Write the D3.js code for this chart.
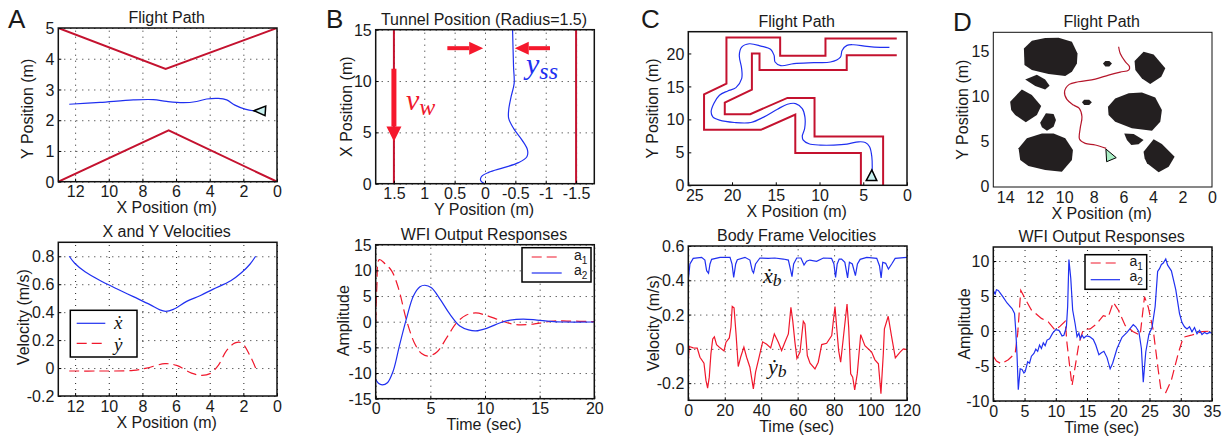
<!DOCTYPE html>
<html>
<head>
<meta charset="utf-8">
<title>Flight paths</title>
<script src="https://cdn.jsdelivr.net/npm/d3@7"></script>
<style>
  html, body { margin: 0; padding: 0; background: #fff; }
  svg { display: block; }
  text { font-family: "Liberation Sans", Arial, sans-serif; fill: #1a1a1a; }
  .math { font-family: "Liberation Serif", serif; font-style: italic; }
</style>
</head>
<body>
<div id="chart"></div>
<script>
// ---- data ----

// A, flight path
const aWallTopX = [13, 6.62, 0];
const aWallTopY = [5, 3.67, 5];
const aWallBottomX = [13, 6.44, 0];
const aWallBottomY = [0, 1.67, 0];
const aPathX = [12.35, 10.52, 8.54, 7.35, 6.56, 5.57, 4.78, 4.18, 3.49, 2.99, 2.5, 1.9, 1.31];
const aPathY = [2.52, 2.58, 2.66, 2.67, 2.61, 2.57, 2.61, 2.69, 2.71, 2.66, 2.49, 2.36, 2.3];
const aMarkerX = [1.37, 0.67, 0.71];
const aMarkerY = [2.31, 2.46, 2.15];

// A, velocities
const aVelX = [12.35, 12.01, 11.41, 10.52, 9.53, 8.54, 7.55, 6.96, 6.62, 6.16, 5.37, 4.58, 3.79, 2.75, 2.1, 1.61, 1.27];
const aVelXdot = [0.8, 0.748, 0.689, 0.627, 0.568, 0.511, 0.454, 0.416, 0.406, 0.42, 0.477, 0.518, 0.565, 0.625, 0.684, 0.743, 0.8];
const aVelY = [12.35, 10.52, 8.54, 7.75, 6.66, 5.97, 5.08, 4.48, 3.98, 3.49, 2.99, 2.49, 2.1, 1.61, 1.27];
const aVelYdot = [-0.021, -0.021, -0.017, 0, 0.031, 0.019, -0.036, -0.052, -0.04, 0.019, 0.126, 0.18, 0.18, 0.09, 0];

// B, tunnel position
const bWallLeft = [1.5, 1.5];
const bWallRight = [-1.5, -1.5];
const bWallSpan = [0, 15];
const bPathY = [-0.454, -0.47, -0.48, -0.43, -0.39, -0.39, -0.47, -0.61, -0.7, -0.69, -0.55, -0.31, -0.06, 0.06, 0.07, 0];
const bPathX = [15, 11.4, 9.77, 8.47, 7.18, 6.36, 5.39, 4.25, 3.28, 2.63, 2.05, 1.56, 1.1, 0.68, 0.29, 0];

// B, WFI responses
const bA1T = [0, 0.1, 0.33, 0.85, 1.46, 2.07, 2.84, 3.6, 4.2, 4.8, 5.6, 6.5, 7.4, 8.3, 9.15, 10.15, 11.4, 12.6, 13.8, 15, 16.25, 17.5, 20];
const bA1 = [0, 6.6, 12.1, 11.3, 9.9, 6.6, 0.13, -4.4, -6.2, -6.7, -5.9, -3.1, -0.2, 1.3, 1.7, 1.2, 0.26, -0.5, -0.58, -0.26, 0.13, 0.13, 0];
const bA2T = [0, 0.25, 0.6, 1.07, 1.6, 2.2, 2.84, 3.45, 4.05, 4.5, 5.1, 5.9, 6.8, 7.7, 8.5, 9.15, 10.15, 11.4, 12.3, 13.5, 14.75, 16, 17.2, 20];
const bA2 = [-11.2, -12, -12.3, -11.9, -9.6, -4.4, 0.8, 5, 6.8, 7.1, 6.6, 4.35, 1.43, -0.84, -1.6, -1.8, -1.3, -0.2, 0.32, 0.52, 0.32, 0.06, -0.06, -0.06];

// C, flight path
const cWallOneX = [5.27, 5.27, 12.77, 12.77, 16.7, 23.2, 23.2, 20.64, 20.64, 14.5, 14.5, 9.32, 9.32, 1.17];
const cWallOneY = [0, 4.89, 4.89, 10.74, 8.42, 8.42, 13.81, 15.42, 22.43, 22.43, 19.66, 19.66, 22.28, 22.28];
const cWallTwoX = [2.73, 2.73, 10.57, 10.57, 13.67, 17.92, 20.83, 20.83, 17.73, 17.73, 16.86, 16.86, 6.89, 6.89, 1.17];
const cWallTwoY = [0, 7.41, 7.41, 13.26, 13.26, 10.79, 10.79, 12.55, 14.52, 20.01, 20.01, 17.49, 17.49, 19.71, 19.71];
const cPathX = [3.98, 4.02, 4.28, 4.77, 5.53, 6.86, 8.37, 9.89, 11.21, 11.86, 11.97, 11.7, 11.67, 11.97, 12.73, 13.67, 14.81, 16.33, 17.84, 19.73, 21.44, 22.2, 22.39, 22.08, 21.44, 20.49, 19.55, 18.9, 18.9, 19.17, 18.9, 18.03, 16.7, 15.57, 15.19, 15.08, 14.43, 12.92, 10.64, 8.75, 7.61, 7.42, 6.86, 6.1, 4.58, 3.07, 2.01];
const cPathY = [2.07, 4.33, 5.85, 6.5, 6.6, 6.25, 6.1, 6.1, 6.3, 6.85, 7.46, 8.62, 10.38, 11.64, 12.4, 12.3, 11.54, 10.38, 9.53, 9.53, 9.88, 10.38, 11.14, 12.4, 13.66, 14.31, 14.82, 16.18, 17.69, 19.71, 20.97, 21.47, 21.12, 20.61, 19.71, 18.7, 18.15, 18.45, 18.6, 18.7, 19.46, 20.46, 21.22, 21.32, 21.07, 20.92, 20.92];
const cMarkerX = [4.66, 3.45, 4.02];
const cMarkerY = [0.71, 0.71, 2.32];

// C, body frame velocities
const cXbT = [0, 0.9, 2.7, 7.3, 9.1, 10.06, 11.1, 11.9, 12.8, 17.4, 22.9, 24, 24.9, 26, 26.9, 31.1, 33.8, 35.1, 35.8, 36.9, 39.3, 43.9, 47.5, 52.1, 54.9, 56.2, 56.9, 57.8, 59.5, 61.8, 63.5, 64.9, 66.7, 70.4, 74.1, 78.6, 79.9, 80.8, 81.7, 82.8, 84.1, 85.9, 87.4, 88.4, 90, 91.7, 92.8, 94.3, 97.9, 103.4, 104.9, 105.8, 106.7, 108.3, 109.8, 111.6, 113.5, 120];
const cXb = [0.402, 0.495, 0.528, 0.534, 0.518, 0.456, 0.441, 0.495, 0.522, 0.534, 0.534, 0.495, 0.417, 0.495, 0.52, 0.534, 0.518, 0.456, 0.443, 0.495, 0.53, 0.528, 0.53, 0.524, 0.518, 0.456, 0.421, 0.495, 0.53, 0.53, 0.489, 0.511, 0.518, 0.511, 0.53, 0.528, 0.495, 0.417, 0.495, 0.524, 0.524, 0.505, 0.414, 0.505, 0.495, 0.427, 0.495, 0.522, 0.534, 0.528, 0.485, 0.414, 0.505, 0.499, 0.466, 0.495, 0.528, 0.534];
const cYbT = [0, 0.5, 2.7, 4.9, 6.4, 8.6, 9.7, 10.6, 11.5, 12.4, 13.4, 14.3, 15.5, 17.4, 19.6, 20.7, 22.5, 23.4, 24.1, 25.1, 26.2, 27.4, 28.7, 30.5, 32, 33.8, 35.7, 36.9, 38.4, 40.8, 43, 45.2, 47.2, 49.4, 51.2, 53, 54.9, 56.3, 57.3, 58.5, 59.6, 61.3, 63.1, 64, 65.3, 66.8, 69.5, 71.3, 73.2, 75.9, 78.7, 79.6, 80.5, 81.4, 82.5, 83.6, 85.1, 87.1, 88, 89.1, 90.2, 91.3, 92.7, 94.6, 96.9, 100.6, 102.4, 104.3, 105.7, 107, 107.6, 109.7, 111.6, 113.6, 116.2, 118, 120];
const cYb = [-0.068, 0.014, 0.006, 0.004, -0.049, -0.083, -0.184, -0.229, -0.165, -0.029, 0.058, 0.07, 0.025, 0.006, -0.012, 0.039, 0.064, 0.126, 0.247, 0.239, 0.087, -0.103, -0.049, 0.01, -0.049, -0.107, -0.233, -0.136, -0.068, 0.041, 0.027, 0.006, 0.087, 0.039, -0.01, 0.039, 0.087, 0.243, 0.165, 0.039, -0.056, -0.019, 0.161, 0.146, -0.039, -0.083, -0.117, -0.078, 0.025, 0.033, 0.078, 0.165, 0.247, 0.126, -0.01, -0.078, 0.068, 0.262, 0.126, -0.146, -0.165, -0.239, -0.146, 0.083, 0.019, -0.019, -0.064, -0.087, -0.262, -0.029, 0.117, 0.19, 0.068, -0.052, -0.019, 0, -0.004];

// D, flight path and obstacles, as [x, y] corners
const dObstacles = [
  [[12.73, 15.41], [12.19, 16.26], [11.29, 16.56], [10.38, 16.59], [9.48, 16.15], [9.1, 14.85], [9.14, 13.74], [9.48, 12.81], [9.93, 12.33], [11.06, 12.56], [12.19, 13], [12.69, 13.56]],
  [[12.64, 11.96], [11.85, 12.48], [11.29, 11.96], [10.99, 11.26], [11.29, 10.85], [11.96, 11.22]],
  [[13.66, 9.48], [12.87, 10.85], [12.19, 10.22], [11.56, 9], [11.85, 8], [12.6, 7.19], [13.32, 8], [13.59, 8.56]],
  [[11.63, 7.15], [11.24, 8.19], [10.72, 8.11], [10.56, 7.44], [10.72, 6.7], [11.17, 6.26], [11.51, 6.63]],
  [[13.09, 4.3], [12.53, 5.41], [11.51, 5.96], [10.72, 5.96], [9.93, 5.41], [9.41, 4.11], [9.48, 3], [10.16, 1.7], [11.29, 1.89], [12.42, 2.33], [12.98, 3]],
  [[7.38, 13.74], [7.22, 14], [6.95, 14], [6.77, 13.74], [6.95, 13.41], [7.22, 13.41]],
  [[8.8, 9.41], [8.65, 9.7], [8.31, 9.7], [8.13, 9.41], [8.31, 9.11], [8.65, 9.11]],
  [[5.24, 14], [4.63, 15.04], [3.95, 14.74], [3.16, 13.19], [3.43, 12.26], [4.18, 11.44], [4.74, 12.07], [5.19, 13]],
  [[7.04, 8.93], [6.55, 9.85], [5.64, 10.41], [4.74, 10.52], [3.84, 9.96], [3.39, 8.56], [3.5, 7.26], [4.06, 6.26], [5.42, 6.52], [6.55, 7.26], [7, 8]],
  [[5.94, 5.96], [5.3, 5.89], [4.63, 5.22], [4.97, 4.74], [5.46, 4.67], [5.76, 5.22]],
  [[4.63, 3.93], [3.95, 5.3], [3.39, 4.78], [2.53, 3.37], [2.93, 2.26], [3.61, 1.63], [4.4, 2.63], [4.56, 3.19]]
];
const dPathX = [6.32, 6.21, 5.87, 5.58, 5.64, 6.21, 7, 7.9, 9.03, 9.66, 9.98, 9.82, 9.37, 8.98, 8.8, 8.92, 8.96, 8.58, 7.9, 7.16];
const dPathY = [15.59, 14.85, 13.93, 13.37, 13, 12.78, 12.44, 12, 11.7, 11.41, 10.59, 9.74, 9.11, 8.74, 7.81, 6.52, 5.3, 4.85, 4.67, 4.3];
const dMarkerX = [7.18, 6.48, 7.13];
const dMarkerY = [4.22, 3.26, 2.81];

// D, WFI responses
const dA1T = [0, 0.5, 1.3, 2.4, 3.5, 3.9, 4.4, 5.1, 6.1, 7.7, 8.8, 9.9, 10.7, 11.5, 11.8, 12.3, 12.6, 13.1, 13.7, 14.4, 15.5, 16.5, 17.6, 18.4, 19.2, 20, 21.1, 22.4, 23.5, 24.2, 24.8, 25.6, 26.4, 26.8, 27.6, 28.5, 29.6, 30.4, 31.7, 33.4, 35];
const dA1 = [-3.6, -4.3, -4.7, -4.1, -3.2, -0.4, 5.8, 4.6, 3, 1.8, 1.3, 0.1, 0.7, 1.4, -1.8, -5.6, -7.8, -5.1, -1.8, 0.2, 0.3, 1, 2.2, 2, 4.1, 3, 0.8, -0.1, -0.6, 4.9, 3.4, 0.1, -5.6, -8.2, -8.8, -7, -3.2, -0.9, -0.6, -0.1, 0];
const dA2T = [0, 0.1, 0.3, 0.5, 0.8, 1.2, 1.6, 2.2, 3, 3.4, 3.6, 3.8, 4, 4.3, 4.6, 4.9, 5.1, 5.5, 5.8, 6.1, 6.5, 6.8, 7.1, 7.4, 7.7, 8, 8.3, 8.6, 9, 9.5, 10, 10.5, 11, 11.3, 11.7, 11.9, 12.1, 12.4, 12.7, 13.1, 13.4, 13.7, 13.9, 14.2, 14.5, 14.9, 15.4, 16, 16.4, 16.9, 17.3, 17.7, 18.2, 18.7, 19.1, 19.8, 20.6, 21.4, 22.4, 22.8, 23.3, 23.7, 24, 24.4, 24.9, 25.4, 25.9, 26.3, 26.6, 26.9, 27.2, 27.6, 27.9, 28.5, 29.2, 29.8, 30.2, 30.6, 31, 31.4, 31.8, 32.2, 32.6, 33, 33.4, 33.8, 34.2, 34.6, 35];
const dA2 = [5.1, 5.6, 5.3, 5.9, 5.8, 5.3, 4.8, 4, 3.2, 2.5, 0, -3.5, -8.4, -5.4, -5.5, -6, -5.8, -4.4, -4.6, -3.6, -3.2, -2.6, -2.9, -2, -2.5, -1.7, -2.1, -1.3, -1.1, -0.3, 0.2, 0.1, -0.7, -0.6, 0.6, 3.5, 10.2, 7.5, 3, 1, -0.8, -0.3, -1.1, -0.6, -1, -0.7, -0.8, -1.2, -2, -3.4, -3.1, -2.9, -3.8, -5.4, -4.6, -2.5, -0.9, -0.2, 0.9, 0.6, -0.1, -2.5, -7.3, -3, -0.5, 0.5, 3.5, 8.5, 8.9, 9.5, 9.7, 10.3, 9.4, 8.6, 5.9, 2.5, 1.2, 0.6, 0.3, 0.6, -0.1, 0.5, -0.4, 0.1, -0.5, -0.2, -0.4, -0.2, -0.3];

// tick labels
const ticksPos13 = [12, 10, 8, 6, 4, 2, 0];
const ticksTunnel = [1.5, 1, 0.5, 0, -0.5, -1, -1.5];
const ticksTime20 = [0, 5, 10, 15, 20];
const ticksAmp15 = [-15, -10, -5, 0, 5, 10, 15];
const ticksTime120 = [0, 20, 40, 60, 80, 100, 120];
const ticksTime35 = [0, 5, 10, 15, 20, 25, 30, 35];

// ---- colours ----
const wallRed = "#c4122f";
const lineRed = "#f0182c";
const lineBlue = "#2030f0";

const width = 1225;
const height = 442;
const fontSize = 16;

const svg = d3.select("#chart").append("svg")
  .attr("width", width)
  .attr("height", height);

const zip = (xs, ys) => xs.map((x, i) => [x, ys[i]]);

// one axes box with ticks, optional dotted grid, title and labels
function makePanel(o) {
  const x = d3.scaleLinear().domain(o.xDomain).range([o.left, o.right]);
  const y = d3.scaleLinear().domain(o.yDomain).range([o.bottom, o.top]);
  const g = svg.append("g");
  const w = o.right - o.left;
  const h = o.bottom - o.top;

  if (o.grid) {
    g.append("g")
      .attr("transform", `translate(0,${o.bottom})`)
      .call(d3.axisBottom(x).tickValues(o.xTicks).tickSize(-h).tickFormat(""))
      .call(a => a.select(".domain").remove())
      .selectAll("line")
      .attr("stroke", "#222").attr("stroke-dasharray", "1,5");
    g.append("g")
      .attr("transform", `translate(${o.left},0)`)
      .call(d3.axisLeft(y).tickValues(o.yTicks).tickSize(-w).tickFormat(""))
      .call(a => a.select(".domain").remove())
      .selectAll("line")
      .attr("stroke", "#222").attr("stroke-dasharray", "1,5");
  }

  const clip = "clip" + o.id;
  svg.append("clipPath").attr("id", clip).append("rect")
    .attr("x", o.left).attr("y", o.top).attr("width", w).attr("height", h);
  const plot = g.append("g").attr("clip-path", `url(#${clip})`);

  const xAxis = svg.append("g")
    .attr("transform", `translate(0,${o.bottom})`)
    .call(d3.axisBottom(x).tickValues(o.xTicks).tickSize(o.inTicks ? -3 : 0).tickFormat(d => String(d)));
  xAxis.select(".domain").remove();
  xAxis.selectAll("text")
    .attr("y", 15.5).attr("dy", 0)
    .attr("font-size", fontSize)
    .attr("dx", d => (o.xLabelShift && o.xLabelShift[d]) || 0);

  const yAxis = svg.append("g")
    .attr("transform", `translate(${o.left},0)`)
    .call(d3.axisLeft(y).tickValues(o.yTicks).tickSize(o.inTicks ? -3 : 0).tickFormat(d => String(d)));
  yAxis.select(".domain").remove();
  yAxis.selectAll("text")
    .attr("x", -4).attr("dy", "0.35em")
    .attr("font-size", fontSize)
    .attr("transform", o.yLabelLift ? `translate(0,${-o.yLabelLift})` : null);

  svg.append("text")
    .attr("x", (o.left + o.right) / 2 - 1).attr("y", o.top - 5)
    .attr("text-anchor", "middle").attr("font-size", fontSize)
    .text(o.title);
  svg.append("text")
    .attr("x", (o.left + o.right) / 2 - 1).attr("y", o.bottom + 31.5)
    .attr("text-anchor", "middle").attr("font-size", fontSize)
    .text(o.xLabel);
  svg.append("text")
    .attr("transform", `translate(${o.yLabelX},${(o.top + o.bottom) / 2 + (o.yLabelDy || 0)}) rotate(-90)`)
    .attr("text-anchor", "middle").attr("font-size", fontSize)
    .text(o.yLabel);

  return { x, y, plot, g, frame: () => svg.append("rect")
    .attr("x", o.left).attr("y", o.top).attr("width", w).attr("height", h)
    .attr("fill", "none").attr("stroke", "#111").attr("stroke-width", o.frameWidth || 1.5) };
}

function drawLine(p, pts, color, opts = {}) {
  const line = d3.line()
    .x(d => p.x(d[0])).y(d => p.y(d[1]))
    .curve(opts.curve || d3.curveLinear);
  p.plot.append("path")
    .attr("d", line(pts))
    .attr("fill", "none")
    .attr("stroke", color)
    .attr("stroke-width", opts.width || 1.2)
    .attr("stroke-dasharray", opts.dash || null)
    .attr("stroke-linejoin", "miter");
}

function drawMarker(p, xs, ys, fill) {
  p.plot.append("polygon")
    .attr("points", zip(xs, ys).map(d => [p.x(d[0]), p.y(d[1])].join(",")).join(" "))
    .attr("fill", fill).attr("stroke", "#000").attr("stroke-width", 1.5);
}

// math text with an optional subscript
function mathText(parent, px, py, main, sub, color, size) {
  const t = parent.append("text")
    .attr("class", "math")
    .attr("x", px).attr("y", py)
    .attr("font-size", size)
    .style("fill", color)
    .text(main);
  if (sub) {
    t.append("tspan").attr("dy", size * 0.15).attr("font-size", size * 0.8).text(sub);
  }
}

function drawLegend(box, rows) {
  const lg = svg.append("g");
  lg.append("rect")
    .attr("x", box.x).attr("y", box.y).attr("width", box.w).attr("height", box.h)
    .attr("fill", "#fff").attr("stroke", "#000").attr("stroke-width", 1.5);
  rows.forEach(r => {
    lg.append("line")
      .attr("x1", box.x1).attr("x2", box.x2).attr("y1", r.y).attr("y2", r.y)
      .attr("stroke", r.color).attr("stroke-width", 1.2)
      .attr("stroke-dasharray", r.dash || null);
    r.label(lg);
  });
}

function subLabel(g, px, py, base, sub) {
  const t = g.append("text").attr("x", px).attr("y", py).attr("font-size", 14).text(base);
  t.append("tspan").attr("dy", 4).attr("font-size", 10).text(sub);
}

function panelLetter(letter, px, py) {
  svg.append("text").attr("x", px).attr("y", py).attr("font-size", 26).text(letter);
}

const dash = "10,5";
const smooth = d3.curveCatmullRom;

// ---- A top ----
const pA1 = makePanel({
  id: "a1", left: 58.3, right: 277, top: 28, bottom: 181.7,
  xDomain: [13, 0], yDomain: [0, 5], grid: true, inTicks: true,
  xTicks: ticksPos13, yTicks: [0, 1, 2, 3, 4, 5],
  title: "Flight Path", xLabel: "X Position (m)", yLabel: "Y Position (m)", yLabelX: 32.5, yLabelDy: 4
});
drawLine(pA1, zip(aWallTopX, aWallTopY), wallRed, { width: 2 });
drawLine(pA1, zip(aWallBottomX, aWallBottomY), wallRed, { width: 2 });
drawLine(pA1, zip(aPathX, aPathY), lineBlue, { curve: smooth });
drawMarker(pA1, aMarkerX, aMarkerY, "#c8f2f0");
pA1.frame();

// ---- A bottom ----
const pA2 = makePanel({
  id: "a2", left: 58.3, right: 277, top: 242.3, bottom: 396,
  xDomain: [13, 0], yDomain: [-0.2, 0.9], grid: true, inTicks: true,
  xTicks: ticksPos13, yTicks: [-0.2, 0, 0.2, 0.4, 0.6, 0.8],
  title: "X and Y Velocities", xLabel: "X Position (m)", yLabel: "Velocity (m/s)", yLabelX: 29, yLabelDy: -2
});
drawLine(pA2, zip(aVelX, aVelXdot), lineBlue, { curve: smooth });
drawLine(pA2, zip(aVelY, aVelYdot), lineRed, { curve: smooth, dash });
pA2.frame();
drawLegend({ x: 70.3, y: 310.3, w: 66.7, h: 46.7, x1: 76.7, x2: 105.3 }, [
  { y: 323.3, color: lineBlue, label: g => mathText(g, 114, 329, "ẋ", "", "#111", 19) },
  { y: 343.3, color: lineRed, dash, label: g => mathText(g, 114, 351, "ẏ", "", "#111", 19) }
]);

// ---- B top ----
const pB1 = makePanel({
  id: "b1", left: 375.7, right: 594.3, top: 29.7, bottom: 183.7,
  xDomain: [1.8, -1.8], yDomain: [0, 15], grid: true, inTicks: true,
  xTicks: ticksTunnel, yTicks: [0, 5, 10, 15],
  title: "Tunnel Position (Radius=1.5)", xLabel: "Y Position (m)", yLabel: "X Position (m)", yLabelX: 351.7
});
drawLine(pB1, zip(bWallLeft, bWallSpan), wallRed, { width: 2 });
drawLine(pB1, zip(bWallRight, bWallSpan), wallRed, { width: 2 });
drawLine(pB1, zip(bPathY, bPathX), lineBlue, { curve: smooth });

// arrows, in data coordinates
function arrow(p, from, to, shaft, headLen, headW, color) {
  const x0 = p.x(from[0]), y0 = p.y(from[1]), x1 = p.x(to[0]), y1 = p.y(to[1]);
  const len = Math.hypot(x1 - x0, y1 - y0);
  const ux = (x1 - x0) / len, uy = (y1 - y0) / len;
  const bx = x1 - ux * headLen, by = y1 - uy * headLen;
  svg.append("line")
    .attr("x1", x0).attr("y1", y0).attr("x2", bx).attr("y2", by)
    .attr("stroke", color).attr("stroke-width", shaft);
  svg.append("polygon")
    .attr("points", [[x1, y1], [bx - uy * headW / 2, by + ux * headW / 2], [bx + uy * headW / 2, by - ux * headW / 2]].map(d => d.join(",")).join(" "))
    .attr("fill", color);
}
arrow(pB1, [1.5, 11.2], [1.5, 4.1], 5, 15, 15, "#f5182c");
arrow(pB1, [0.62, 13.2], [0.03, 13.2], 4, 14, 13, "#f5182c");
arrow(pB1, [-1.07, 13.2], [-0.49, 13.2], 4, 14, 13, "#f5182c");
pB1.frame();
mathText(svg, 406, 110, "v", "w", lineRed, 30);
mathText(svg, 526, 74, "y", "ss", lineBlue, 30);

// ---- B bottom ----
const pB2 = makePanel({
  id: "b2", left: 375.7, right: 594.3, top: 244.7, bottom: 398.7,
  xDomain: [0, 20], yDomain: [-15, 15], grid: true, inTicks: true,
  xTicks: ticksTime20, yTicks: ticksAmp15,
  title: "WFI Output Responses", xLabel: "Time (sec)", yLabel: "Amplitude", yLabelX: 349, yLabelDy: -1
});
drawLine(pB2, zip(bA1T, bA1), lineRed, { curve: smooth, dash });
drawLine(pB2, zip(bA2T, bA2), lineBlue, { curve: smooth });
pB2.frame();
drawLegend({ x: 522, y: 247.7, w: 69, h: 34.3, x1: 531.7, x2: 561.7 }, [
  { y: 257, color: lineRed, dash, label: g => subLabel(g, 574, 260, "a", "1") },
  { y: 273, color: lineBlue, label: g => subLabel(g, 574, 275, "a", "2") }
]);

// ---- C top ----
const pC1 = makePanel({
  id: "c1", left: 688.3, right: 907, top: 31.7, bottom: 185.3,
  xDomain: [25, 0], yDomain: [0, 23.3], grid: false, inTicks: true,
  xTicks: [25, 20, 15, 10, 5, 0], yTicks: [0, 5, 10, 15, 20],
  xLabelShift: { 25: 6 },
  title: "Flight Path", xLabel: "X Position (m)", yLabel: "Y Position (m)", yLabelX: 658
});
drawLine(pC1, zip(cWallOneX, cWallOneY), wallRed, { width: 2 });
drawLine(pC1, zip(cWallTwoX, cWallTwoY), wallRed, { width: 2 });
drawLine(pC1, zip(cPathX, cPathY), lineBlue, { curve: smooth });
drawMarker(pC1, cMarkerX, cMarkerY, "#c8f2f0");
pC1.frame();

// ---- C bottom ----
const pC2 = makePanel({
  id: "c2", left: 688.3, right: 907, top: 246, bottom: 400.3,
  xDomain: [0, 120], yDomain: [-0.3, 0.6], grid: true, inTicks: true,
  xTicks: ticksTime120, yTicks: [-0.2, 0, 0.2, 0.4, 0.6],
  title: "Body Frame Velocities", xLabel: "Time (sec)", yLabel: "Velocity (m/s)", yLabelX: 659
});
drawLine(pC2, zip(cXbT, cXb), lineBlue);
drawLine(pC2, zip(cYbT, cYb), lineRed);
pC2.frame();
mathText(svg, 763, 283, "ẋ", "b", "#111", 22);
mathText(svg, 768, 374, "ẏ", "b", "#111", 22);

// ---- D top ----
const pD1 = makePanel({
  id: "d1", left: 993.3, right: 1212, top: 32.3, bottom: 187,
  xDomain: [14.8, 0], yDomain: [0, 17.2], grid: false, inTicks: false,
  xTicks: [14, 12, 10, 8, 6, 4, 2, 0], yTicks: [0, 5, 10, 15], yLabelLift: 1.5, frameWidth: 1,
  title: "Flight Path", xLabel: "X Position (m)", yLabel: "Y Position (m)", yLabelX: 968
});
pD1.plot.selectAll("polygon.rock")
  .data(dObstacles)
  .join("polygon")
  .attr("class", "rock")
  .attr("points", d => d.map(c => [pD1.x(c[0]), pD1.y(c[1])].join(",")).join(" "))
  .attr("fill", "#231f20");
drawLine(pD1, zip(dPathX, dPathY), "#b5162b", { curve: smooth });
pD1.plot.append("polygon")
  .attr("points", zip(dMarkerX, dMarkerY).map(d => [pD1.x(d[0]), pD1.y(d[1])].join(",")).join(" "))
  .attr("fill", "#a8eec4").attr("stroke", "#000").attr("stroke-width", 1);
pD1.frame();

// ---- D bottom ----
const pD2 = makePanel({
  id: "d2", left: 993.3, right: 1212, top: 247, bottom: 401,
  xDomain: [0, 35], yDomain: [-10, 12], grid: true, inTicks: true,
  xTicks: ticksTime35, yTicks: [-10, -5, 0, 5, 10],
  title: "WFI Output Responses", xLabel: "Time (sec)", yLabel: "Amplitude", yLabelX: 970
});
drawLine(pD2, zip(dA1T, dA1), lineRed, { dash });
drawLine(pD2, zip(dA2T, dA2), lineBlue);
pD2.frame();
drawLegend({ x: 1085, y: 254.7, w: 61.7, h: 34.6, x1: 1090.7, x2: 1120 }, [
  { y: 263, color: lineRed, dash, label: g => subLabel(g, 1129.5, 266, "a", "1") },
  { y: 279.7, color: lineBlue, label: g => subLabel(g, 1129.5, 281, "a", "2") }
]);

// ---- panel letters ----
panelLetter("A", 8, 28);
panelLetter("B", 326, 28);
panelLetter("C", 641, 28);
panelLetter("D", 953, 31);
</script>
</body>
</html>
